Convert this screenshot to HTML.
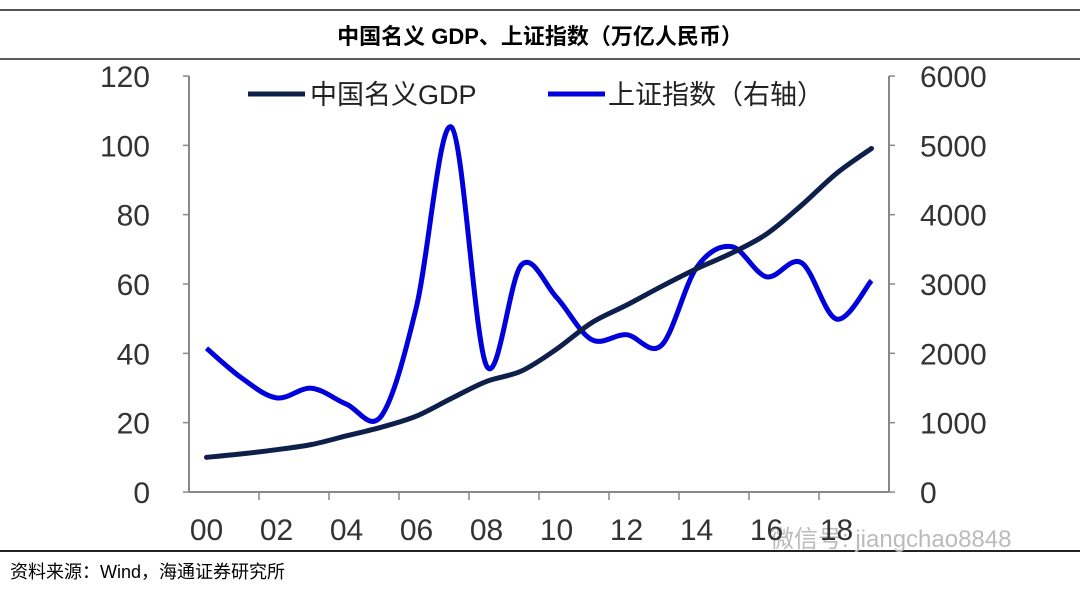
<!DOCTYPE html>
<html><head><meta charset="utf-8"><style>
body{margin:0;background:#fff;}
svg{display:block;font-family:"Liberation Sans","Noto Sans CJK SC",sans-serif;}
</style></head><body>
<svg id="chart" width="1080" height="589" viewBox="0 0 1080 589">
<line x1="0" y1="10" x2="1080" y2="10" stroke="#555" stroke-width="2"/>
<text x="540" y="44" text-anchor="middle" font-size="22" font-weight="bold" fill="#000">中国名义 GDP、上证指数（万亿人民币）</text>
<line x1="0" y1="59" x2="1080" y2="59" stroke="#222" stroke-width="1.5"/>
<line x1="0" y1="551" x2="1080" y2="551" stroke="#222" stroke-width="2"/>
<text x="10" y="578" font-size="18" fill="#000">资料来源：Wind，海通证券研究所</text>
<text x="770" y="547" font-size="24" fill="#bbb">微信号: jiangchao8848</text>
<g id="axes"></g>
<g id="series"></g>
<g>
<line x1="248" y1="94" x2="305" y2="94" stroke="#0d1f4a" stroke-width="5"/>
<text x="310" y="104" font-size="27" fill="#222">中国名义GDP</text>
<line x1="548" y1="94" x2="605" y2="94" stroke="#0000dd" stroke-width="5"/>
<text x="608" y="104" font-size="27" fill="#222">上证指数（右轴）</text>
</g>
</svg>
<script>
const years = ["00","01","02","03","04","05","06","07","08","09","10","11","12","13","14","15","16","17","18","19"];
const gdp = [10.0,11.0,12.2,13.7,16.2,18.7,21.9,27.0,31.9,34.9,41.2,48.8,53.9,59.3,64.4,68.9,74.4,82.7,91.9,99.1];
const sse = [2073,1646,1358,1497,1267,1100,2675,5262,1821,3277,2808,2199,2269,2116,3235,3539,3104,3307,2494,3050];
const leftTicks = [0,20,40,60,80,100,120];
const rightTicks = [0,1000,2000,3000,4000,5000,6000];

const X0=189, X1=889, Y0=492, Y1=76;
const NS="http://www.w3.org/2000/svg";
const bw=(X1-X0)/years.length;
function x(i){return X0+bw*(i+0.5);}
function yL(v){return Y0-(v/120)*(Y0-Y1);}
function yR(v){return Y0-(v/6000)*(Y0-Y1);}
function mk(tag,attrs,parent){const e=document.createElementNS(NS,tag);for(const k in attrs)e.setAttribute(k,attrs[k]);parent.appendChild(e);return e;}
const axes=document.getElementById('axes'), series=document.getElementById('series');
let e;
e=mk('line',{x1:X0,y1:Y1,x2:X0,y2:Y0,stroke:'#888','stroke-width':2},axes);


e=mk('line',{x1:X1,y1:Y1,x2:X1,y2:Y0,stroke:'#888','stroke-width':2},axes);


e=mk('line',{x1:X0,y1:Y0,x2:X1,y2:Y0,stroke:'#888','stroke-width':2},axes);


leftTicks.forEach(v=>{
  mk('line',{x1:X0-6,y1:yL(v),x2:X0,y2:yL(v),stroke:'#888','stroke-width':1.5},axes);
  e=mk('text',{x:150,y:yL(v)+11,'text-anchor':'end','font-size':30,fill:'#333'},axes);
  e.textContent=v;
  
  
});
rightTicks.forEach(v=>{
  mk('line',{x1:X1,y1:yR(v),x2:X1+6,y2:yR(v),stroke:'#888','stroke-width':1.5},axes);
  e=mk('text',{x:920,y:yR(v)+11,'font-size':30,fill:'#333'},axes);
  e.textContent=v;
  
  
});
years.forEach((yr,i)=>{
  if(i%2===0){
    const tx=X0+bw*i;
    if(i>0) mk('line',{x1:tx,y1:Y0,x2:tx,y2:Y0+8,stroke:'#888','stroke-width':1.5},axes);
    e=mk('text',{x:x(i),y:540,'text-anchor':'middle','font-size':30,fill:'#333'},axes);
    e.textContent=yr;
    
    
  }
});
function smooth(pts){
  let d=`M${pts[0][0]},${pts[0][1]}`;
  for(let i=0;i<pts.length-1;i++){
    const p0=pts[Math.max(0,i-1)],p1=pts[i],p2=pts[i+1],p3=pts[Math.min(pts.length-1,i+2)];
    const c1=[p1[0]+(p2[0]-p0[0])/6,p1[1]+(p2[1]-p0[1])/6];
    const c2=[p2[0]-(p3[0]-p1[0])/6,p2[1]-(p3[1]-p1[1])/6];
    d+=` C${c1[0]},${c1[1]} ${c2[0]},${c2[1]} ${p2[0]},${p2[1]}`;
  }
  return d;
}
e=mk('path',{d:smooth(sse.map((v,i)=>[x(i),yR(v)])),fill:'none',stroke:'#0000dd','stroke-width':5,'stroke-linejoin':'round'},series);


e=mk('path',{d:smooth(gdp.map((v,i)=>[x(i),yL(v)])),fill:'none',stroke:'#0d1f4a','stroke-width':5,'stroke-linecap':'round'},series);


</script>
</body></html>
